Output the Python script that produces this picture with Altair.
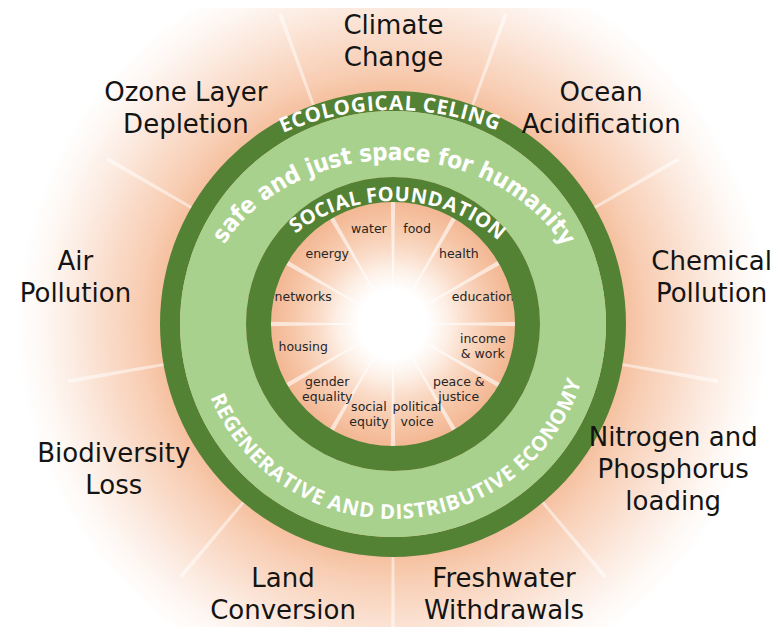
import math
import numpy as np
import pandas as pd
import altair as alt

# ------------------------------------------------------------------ data
boundaries = [
    "Climate\nChange", "Ocean\nAcidification", "Chemical\nPollution",
    "Nitrogen and\nPhosphorus\nloading", "Freshwater\nWithdrawals",
    "Land\nConversion", "Biodiversity\nLoss", "Air\nPollution",
    "Ozone Layer\nDepletion",
]
foundations = [
    "food", "health", "education", "income\n& work", "peace &\njustice",
    "political\nvoice", "social\nequity", "gender\nequality", "housing",
    "networks", "energy", "water",
]
ceiling_text = "ECOLOGICAL CELING"
space_text = "safe and just space for humanity"
foundation_text = "SOCIAL FOUNDATION"
economy_text = "REGENERATIVE AND DISTRIBUTIVE ECONOMY"

# ------------------------------------------------------------------ layout
W, H = 763, 619
xs = alt.Scale(domain=[-385, 378], nice=False, zero=False)
ys = alt.Scale(domain=[-303, 316], nice=False, zero=False)


def X(f):
    return alt.X(f, type="quantitative", scale=xs, axis=None)


def Y(f):
    return alt.Y(f, type="quantitative", scale=ys, axis=None)


origin = pd.DataFrame({"x": [0.0], "y": [0.0]})
TWO_PI = 2 * math.pi

DARK = "#548235"
LIGHT = "#a9d18e"

# relative glyph advances (approximate, em units)
CAPS = dict(A=.73, B=.69, C=.63, D=.76, E=.56, F=.55, G=.73, I=.34, L=.55,
            M=.96, N=.81, O=.78, R=.65, S=.56, T=.60, U=.78, V=.70, Y=.65)
CAPS[" "] = .26
LOWER = dict(a=.675, c=.595, d=.716, e=.678, f=.435, h=.712, i=.343, j=.343,
             m=1.042, n=.712, o=.687, p=.716, r=.493, s=.595, t=.478, u=.712,
             y=.652)
LOWER[" "] = .35


def curved(text, widths, a, b, t0, t1):
    ws = np.array([widths.get(c, .6) for c in text])
    cum = np.concatenate([[0], np.cumsum(ws)])
    mids = (cum[:-1] + ws / 2) / cum[-1]
    ts = np.linspace(np.radians(t0), np.radians(t1), 4000)
    px, py = a * np.sin(ts), b * np.cos(ts)
    s = np.concatenate([[0], np.cumsum(np.hypot(np.diff(px), np.diff(py)))])
    s /= s[-1]
    tc = np.interp(mids, s, ts)
    sg = 1.0 if t1 > t0 else -1.0
    rot = np.degrees(np.arctan2(sg * b * np.sin(tc), sg * a * np.cos(tc))) % 360
    return pd.DataFrame({"ch": list(text), "x": a * np.sin(tc),
                         "y": b * np.cos(tc), "rot": rot})


def ring(r_out, r_in, fill):
    return alt.Chart(origin).mark_arc(
        radius=r_out, radius2=r_in, theta=0, theta2=TWO_PI, fill=fill,
        strokeWidth=0,
    ).encode(x=X("x"), y=Y("y"))


def grad(stops):
    return alt.RadialGradient(
        gradient="radial", x1=0.5, y1=0.5, r1=0, x2=0.5, y2=0.5, r2=0.5,
        stops=[alt.GradientStop(offset=o, color=c) for o, c in stops],
    )


# background glow
outer_bg = ring(400, 0, grad([
    (0.0, "#f4b48e"), (0.58, "#f5c09f"), (0.64, "#f8ceb4"), (0.72, "#fadcca"),
    (0.80, "#fcebe1"), (0.88, "#fef8f4"), (0.94, "#ffffff"), (1.0, "#ffffff"),
]))

n_b = len(boundaries)
rays_out = pd.DataFrame({"k": np.arange(n_b)})
rays_out_layer = alt.Chart(rays_out).transform_calculate(
    t0=f"(datum.k + 0.5) * 2 * PI / {n_b} - 0.006",
    t1=f"(datum.k + 0.5) * 2 * PI / {n_b} + 0.006",
    x="0", y="0",
).mark_arc(radius=330, radius2=232, fill="white", opacity=0.5).encode(
    x=X("x:Q"), y=Y("y:Q"),
    theta=alt.Theta("t0:Q", scale=None, stack=None),
    theta2="t1:Q",
)

inner_bg = ring(122, 0, grad([
    (0.0, "#ffffff"), (0.28, "#ffffff"), (0.45, "#fdf0e7"), (0.62, "#fadac6"),
    (0.82, "#f6c6a7"), (1.0, "#f3b793"),
]))

n_f = len(foundations)
rays_in = pd.DataFrame({"k": np.arange(n_f)})
rays_in_layer = alt.Chart(rays_in).transform_calculate(
    t0=f"datum.k * 2 * PI / {n_f} - 0.018",
    t1=f"datum.k * 2 * PI / {n_f} + 0.018",
    x="0", y="0",
).mark_arc(radius=124, radius2=30, fill="white", opacity=0.6).encode(
    x=X("x:Q"), y=Y("y:Q"),
    theta=alt.Theta("t0:Q", scale=None, stack=None),
    theta2="t1:Q",
)

found_df = pd.DataFrame({"label": foundations, "k": np.arange(n_f),
                         "n": [s.count("\n") for s in foundations]})
found_layer = alt.Chart(found_df).transform_calculate(
    ang=f"(datum.k + 0.5) * 2 * PI / {n_f}",
).transform_calculate(
    x="93 * sin(datum.ang)", y="2 + 96 * cos(datum.ang) + datum.n * 7.5",
).mark_text(
    font="DejaVu Sans", fontSize=12.5, lineHeight=15, lineBreak="\n",
    align="center", baseline="middle", color="#262626",
).encode(x=X("x:Q"), y=Y("y:Q"), text="label:N")

rings = [ring(233, 213, DARK), ring(213, 147, LIGHT), ring(147, 122, DARK)]


def char_layer(df, font, size, weight):
    return alt.Chart(df).mark_text(
        font=font, fontSize=size, fontWeight=weight, color="white",
        align="center", baseline="alphabetic",
    ).encode(x=X("x:Q"), y=Y("y:Q"), angle=alt.Angle("rot:Q", scale=None),
             text="ch:N")


ceil_layer = char_layer(curved(ceiling_text, CAPS, 243, 214, -27, 25.5),
                        "Open Sans", 20.5, "bold")
space_layer = char_layer(curved(space_text, LOWER, 193, 164, -61, 62),
                         "DejaVu Sans Condensed", 24, "bold")
found_title = char_layer(curved(foundation_text, CAPS, 143, 123, -43, 47.5),
                         "Open Sans", 20, "bold")
econ_layer = char_layer(curved(economy_text, CAPS, 197, 195, 248, 107),
                        "Open Sans", 20.5, "bold")

bound_df = pd.DataFrame({"label": boundaries, "k": np.arange(n_b),
                         "n": [s.count("\n") for s in boundaries]})
bound_layer = alt.Chart(bound_df).transform_calculate(
    ang=f"datum.k * 2 * PI / {n_b}",
).transform_calculate(
    x="0.5 + 323 * sin(datum.ang)",
    y="-3 + 285 * cos(datum.ang) + datum.n * 16",
).mark_text(
    font="DejaVu Sans", fontSize=26, lineHeight=32, lineBreak="\n",
    align="center", baseline="middle", color="#141414",
).encode(x=X("x:Q"), y=Y("y:Q"), text="label:N")

chart = alt.layer(
    outer_bg, rays_out_layer, inner_bg, rays_in_layer, found_layer,
    *rings, ceil_layer, space_layer, found_title, econ_layer, bound_layer,
).properties(
    width=W, height=H, padding=0, autosize="none",
).configure_view(stroke=None)

chart.save("out.html", embed_options={"renderer": "svg", "actions": False})
